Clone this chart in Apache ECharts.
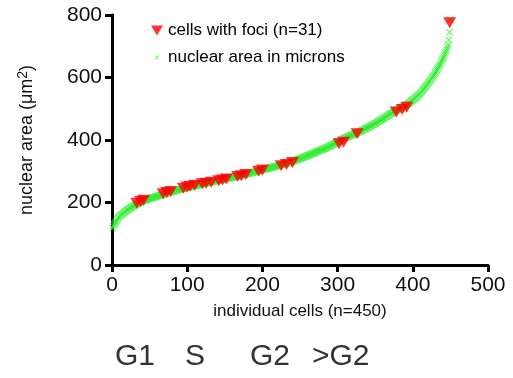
<!DOCTYPE html>
<html>
<head>
<meta charset="utf-8">
<script src="https://cdn.jsdelivr.net/npm/echarts@6/dist/echarts.min.js"></script>
<style>
  html, body { margin: 0; padding: 0; background: #fff; }
  #chart { width: 513px; height: 378px; }
</style>
</head>
<body>
<div id="chart"></div>
<script>
// nuclear area of each cell, sorted (cell 1..450)
const nuclearArea = [
  118,124,129,133,137,141,146,150,153,156,
  158,160,162,164,166,168,170,172,174,176,
  177,179,180,182,183,185,186,188,189,191,
  192,194,195,196,198,199,200,201,203,204,
  205,206,207,208,208,209,210,211,212,213,
  213,214,215,216,216,217,218,219,219,220,
  221,222,222,223,224,225,225,226,227,228,
  229,229,230,231,232,232,233,234,234,235,
  236,236,237,238,238,239,240,240,241,242,
  242,243,244,244,245,245,246,247,247,248,
  249,249,250,250,251,251,252,253,253,254,
  254,255,255,256,256,257,258,258,259,259,
  260,260,261,261,262,263,263,264,264,265,
  265,266,266,267,267,268,268,269,269,270,
  270,271,271,272,273,273,274,274,275,275,
  276,276,277,277,278,278,279,279,280,281,
  281,282,282,283,283,284,284,285,286,286,
  287,287,288,288,289,290,290,291,291,292,
  293,293,294,294,295,296,296,297,298,298,
  299,299,300,301,301,302,303,303,304,305,
  305,306,306,307,308,308,309,310,310,311,
  312,312,313,313,314,315,315,316,317,317,
  318,319,319,320,321,321,322,323,323,324,
  325,325,326,327,328,328,329,330,331,332,
  333,334,334,335,336,337,338,339,340,341,
  342,342,343,344,345,346,347,348,349,350,
  351,352,353,354,355,356,357,358,359,360,
  361,362,363,364,365,366,367,368,369,370,
  371,372,373,374,375,376,377,379,380,381,
  382,383,385,386,387,388,390,391,392,393,
  395,396,397,399,400,401,403,404,405,407,
  408,409,410,411,412,413,414,415,416,417,
  418,419,420,421,422,423,424,426,427,428,
  429,430,431,432,434,435,436,437,439,440,
  441,442,444,445,446,448,449,450,452,453,
  454,456,457,459,460,462,463,465,466,468,
  469,471,472,474,475,477,478,480,482,483,
  485,486,488,489,491,492,494,495,497,498,
  499,500,502,503,504,506,507,508,510,511,
  512,514,515,517,518,520,522,524,526,528,
  530,532,534,536,538,540,543,545,548,550,
  553,556,559,562,565,568,571,574,577,580,
  584,587,590,594,597,601,604,608,612,616,
  620,624,628,632,637,641,646,651,656,661,
  666,672,678,684,690,697,705,720,745,785
];

// cells with foci: cell rank and nuclear area
const fociCells = [33,38,42,68,73,78,95,100,104,110,120,125,132,142,147,152,
  167,172,178,195,200,225,232,240,302,308,326,378,386,392,449];
const fociArea = [198,203,207,228,232,235,246,250,252,255,260,262,265,270,272,275,
  283,286,290,300,304,318,322,328,388,393,420,490,498,505,775];

const xTicks = [0, 100, 200, 300, 400, 500];
const yTicks = [0, 200, 400, 600, 800];
const phases = ['G1', 'S', 'G2', '>G2'];

const chartDom = document.getElementById('chart');
const mChart = echarts.init(chartDom);
const font = 'Liberation Sans, Arial, sans-serif';

const downTriangle = 'path://M0,0 L12,0 L6,10 Z';
const cross = 'path://M0,1 L1,0 L5,4 L9,0 L10,1 L6,5 L10,9 L9,10 L5,6 L1,10 L0,9 L4,5 Z';
// same cross, padded so that the legend draws it small
const smallCross = 'path://M0,0 L0.05,0 L0,0.05 Z M20,20 L19.95,20 L20,19.95 Z ' +
  'M6,7 L7,6 L10,9 L13,6 L14,7 L11,10 L14,13 L13,14 L10,11 L7,14 L6,13 L9,10 Z';

const greenData = nuclearArea.map((v, i) => [i + 1, v]);
const redData = fociCells.map((c, i) => [c, fociArea[i]]);

const phaseX = [115, 185, 250, 312];

const option = {
  animation: false,
  backgroundColor: '#fff',
  grid: { left: 112, right: 25, top: 15, bottom: 113 },
  legend: {
    orient: 'vertical',
    left: 146,
    top: 17,
    itemGap: 10,
    itemWidth: 12,
    itemHeight: 11,
    textStyle: { fontFamily: font, fontSize: 17, color: '#000' },
    data: [
      { name: 'cells with foci (n=31)', icon: downTriangle },
      { name: 'nuclear area in microns', icon: smallCross, itemStyle: { color: '#33ee33' } }
    ]
  },
  xAxis: {
    type: 'value',
    min: xTicks[0],
    max: xTicks[xTicks.length - 1],
    interval: 100,
    name: 'individual cells (n=450)',
    nameLocation: 'middle',
    nameGap: 38,
    nameTextStyle: { fontFamily: font, fontSize: 17, color: '#111' },
    axisLine: { lineStyle: { color: '#000', width: 3 } },
    axisTick: { length: 7, lineStyle: { color: '#000', width: 3 } },
    axisLabel: { fontFamily: font, fontSize: 21, color: '#111', margin: 10 },
    splitLine: { show: false }
  },
  yAxis: {
    type: 'value',
    min: yTicks[0],
    max: yTicks[yTicks.length - 1],
    interval: 200,
    name: 'nuclear area (μm{sup|2})',
    nameLocation: 'middle',
    nameGap: 74,
    nameTextStyle: {
      fontFamily: font, fontSize: 18, color: '#111',
      rich: { sup: { fontFamily: font, fontSize: 14, color: '#111', verticalAlign: 'top', padding: [0, 0, 8, 0] } }
    },
    axisLine: { show: true, lineStyle: { color: '#000', width: 3 } },
    axisTick: { show: true, length: 7, lineStyle: { color: '#000', width: 3 } },
    axisLabel: { fontFamily: font, fontSize: 21, color: '#111', margin: 10 },
    splitLine: { show: false }
  },
  graphic: phases.map((p, i) => ({
    type: 'text',
    left: phaseX[i],
    top: 342,
    style: { text: p, font: '30px ' + font, fill: '#333' }
  })),
  series: [
    {
      name: 'nuclear area in microns',
      type: 'scatter',
      data: greenData,
      symbol: cross,
      symbolSize: 7,
      itemStyle: { color: '#33ee33' },
      z: 2
    },
    {
      name: 'cells with foci (n=31)',
      type: 'scatter',
      data: redData,
      symbol: downTriangle,
      symbolSize: [13, 11],
      itemStyle: { color: '#ff0000' },
      z: 3
    }
  ]
};

mChart.setOption(option);
</script>
</body>
</html>
